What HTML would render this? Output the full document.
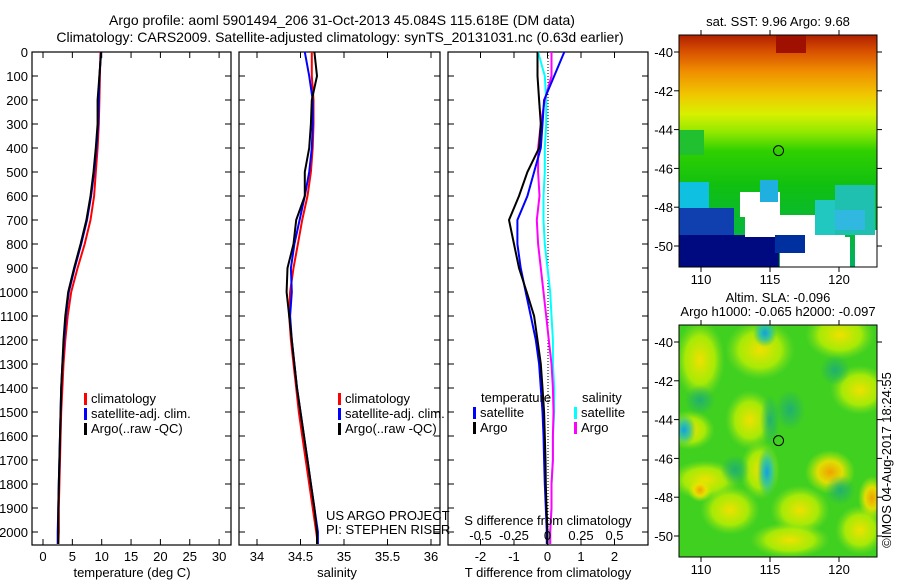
<!DOCTYPE html>
<html><head><meta charset="utf-8"><style>
html,body{margin:0;padding:0;background:#fff;}
svg text{font-family:"Liberation Sans",sans-serif;font-size:13px;fill:#000;}
</style></head><body>
<svg id="c" width="900" height="580" xmlns="http://www.w3.org/2000/svg">
<defs>
<linearGradient id="sstg" x1="0" y1="0" x2="0" y2="1">
<stop offset="0" stop-color="#b02000"/><stop offset="0.07" stop-color="#d85000"/><stop offset="0.16" stop-color="#f09000"/>
<stop offset="0.26" stop-color="#f0c800"/><stop offset="0.34" stop-color="#d8f000"/><stop offset="0.42" stop-color="#90e800"/>
<stop offset="0.5" stop-color="#30d000"/><stop offset="0.65" stop-color="#10c010"/><stop offset="1" stop-color="#00b060"/>
</linearGradient>
<radialGradient id="yb"><stop offset="0" stop-color="#f0e000"/><stop offset="0.6" stop-color="#c0f000" stop-opacity="0.8"/><stop offset="1" stop-color="#80e020" stop-opacity="0"/></radialGradient>
<radialGradient id="ob"><stop offset="0" stop-color="#f0a000"/><stop offset="0.5" stop-color="#f0e000" stop-opacity="0.9"/><stop offset="1" stop-color="#c0f000" stop-opacity="0"/></radialGradient>
<radialGradient id="cb"><stop offset="0" stop-color="#10a0e0"/><stop offset="0.5" stop-color="#20c0b0" stop-opacity="0.8"/><stop offset="1" stop-color="#20c080" stop-opacity="0"/></radialGradient>
<radialGradient id="gb"><stop offset="0" stop-color="#20b070"/><stop offset="1" stop-color="#20b070" stop-opacity="0"/></radialGradient>
</defs>
<g id="titles">
<text x="342" y="25" text-anchor="middle" style="font-size:14px">Argo profile: aoml 5901494_206 31-Oct-2013 45.084S 115.618E (DM data)</text>
<text x="340" y="42" text-anchor="middle" style="font-size:14px">Climatology: CARS2009. Satellite-adjusted climatology: synTS_20131031.nc (0.63d earlier)</text>
</g>
<g id="p1"></g>
<g id="p2"></g>
<g id="p3"></g>
<g id="m1"></g>
<g id="m2"></g>
<text x="0" y="0" transform="translate(891,460) rotate(-90)" text-anchor="middle">©IMOS 04-Aug-2017 18:24:55</text>
</svg>
<script>
// ---- data ----
const depths = [0,100,200,300,400,500,600,700,800,900,1000,1100,1200,1300,1400,1500,1600,1700,1800,1900,2000,2050];
const tempClim = [9.8,9.7,9.6,9.5,9.3,9.0,8.7,8.1,7.1,5.9,4.8,4.2,3.8,3.5,3.3,3.1,3.0,2.9,2.8,2.7,2.7,2.6];
const tempSat  = [9.9,9.6,9.5,9.4,9.1,8.7,8.2,7.5,6.5,5.4,4.4,3.9,3.6,3.3,3.1,3.0,2.9,2.8,2.7,2.6,2.5,2.5];
const tempArgo = [9.9,9.6,9.3,9.3,9.0,8.6,8.1,7.4,6.4,5.3,4.3,3.8,3.5,3.3,3.1,3.0,2.9,2.8,2.7,2.6,2.6,2.6];
const salClim = [34.63,34.63,34.65,34.65,34.64,34.62,34.58,34.52,34.47,34.42,34.38,34.37,34.39,34.42,34.45,34.48,34.52,34.56,34.60,34.64,34.68,34.70];
const salSat  = [34.55,34.60,34.64,34.64,34.63,34.60,34.55,34.49,34.43,34.39,34.40,34.38,34.40,34.43,34.46,34.50,34.54,34.58,34.62,34.66,34.70,34.70];
const salArgo = [34.66,34.69,34.63,34.62,34.60,34.55,34.55,34.45,34.42,34.35,34.34,34.37,34.40,34.43,34.46,34.50,34.54,34.58,34.62,34.66,34.69,34.69];
const dTsat  = [0.5,0.2,-0.1,-0.15,-0.2,-0.4,-0.6,-0.9,-0.9,-0.8,-0.65,-0.5,-0.35,-0.25,-0.2,-0.15,-0.12,-0.1,-0.08,-0.05,-0.02,-0.02];
const dTargo = [-0.3,-0.3,-0.25,-0.2,-0.25,-0.6,-0.85,-1.15,-1.0,-0.85,-0.62,-0.4,-0.3,-0.2,-0.15,-0.1,-0.08,-0.06,-0.05,-0.03,0,0];
const dSsat  = [-0.07,-0.02,-0.01,-0.01,-0.02,-0.02,-0.03,-0.03,-0.02,0.0,0.02,0.03,0.04,0.04,0.05,0.05,0.04,0.04,0.03,0.03,0.02,0.02];
const dSargo = [0.03,0.03,-0.02,-0.05,-0.07,-0.07,-0.06,-0.08,-0.07,-0.05,-0.03,-0.01,0.01,0.03,0.04,0.045,0.04,0.04,0.03,0.03,0.02,0.02];
const depthTicks = [0,100,200,300,400,500,600,700,800,900,1000,1100,1200,1300,1400,1500,1600,1700,1800,1900,2000];
const tTicks = [0,5,10,15,20,25,30];
const sTicks = [34,34.5,35,35.5,36];
const sTickLabels = ["34","34.5","35","35.5","36"];
const dTTicks = [-2,-1,0,1,2];
const dSTicks = [-0.5,-0.25,0,0.25,0.5];
const dSTickLabels = ["-0.5","-0.25","0","0.25","0.5"];
const latTicks = [-40,-42,-44,-46,-48,-50];
const lonTicks = [110,115,120];
const floatLon = 115.618, floatLat = -45.084;

const NS="http://www.w3.org/2000/svg";
function mk(parent,tag,attrs,txt){const e=document.createElementNS(NS,tag);for(const k in attrs)e.setAttribute(k,attrs[k]);if(txt!==undefined)e.textContent=txt;parent.appendChild(e);return e;}
const Y0=52, Y1=545;
const yD = d => Y0 + d*0.24;

function panel(g,x0,x1,xs,ticks,labels,ylabels){
  mk(g,'rect',{x:x0,y:Y0,width:x1-x0,height:Y1-Y0,fill:'none',stroke:'#000','stroke-width':1.2});
  depthTicks.forEach(d=>{const y=yD(d);
    mk(g,'line',{x1:x0,y1:y,x2:x0+6,y2:y,stroke:'#000'});
    mk(g,'line',{x1:x1-6,y1:y,x2:x1,y2:y,stroke:'#000'});
    if(ylabels){const t=mk(g,'text',{x:x0-4,y:y+5,'text-anchor':'end'},String(d));}
  });
  ticks.forEach((v,i)=>{const x=xs(v);
    mk(g,'line',{x1:x,y1:Y1,x2:x,y2:Y1-6,stroke:'#000'});
    mk(g,'line',{x1:x,y1:Y0,x2:x,y2:Y0+6,stroke:'#000'});
    const t=mk(g,'text',{x:x,y:561,'text-anchor':'middle'},labels[i]);
    
  });
}
function line(g,xs,vals,color,name){
  const d=vals.map((v,i)=>(i?'L':'M')+xs(v).toFixed(1)+','+yD(depths[i]).toFixed(1)).join(' ');
  const p=mk(g,'path',{d:d,fill:'none',stroke:color,'stroke-width':2});
  
}
function legend(g,x,y,items){
  items.forEach((it,i)=>{
    mk(g,'rect',{x:x,y:y+i*15-10,width:3,height:12,fill:it[1]});
    const t=mk(g,'text',{x:x+7,y:y+i*15},it[0]);
    
  });
}
// panel 1
const p1=document.getElementById('p1');
const xT = v => 43 + v*5.87;
panel(p1,32,231,xT,tTicks,tTicks.map(String),true);
line(p1,xT,tempClim,'#f00','temp-climatology-line');
line(p1,xT,tempSat,'#00f','temp-satellite-line');
line(p1,xT,tempArgo,'#000','temp-argo-line');
legend(p1,84,403,[['climatology','#f00'],['satellite-adj. clim.','#00f'],['Argo(..raw -QC)','#000']]);
mk(p1,'text',{x:132,y:577,'text-anchor':'middle'},'temperature (deg C)');
// panel 2
const p2=document.getElementById('p2');
const xS = v => 257 + (v-34)*87;
panel(p2,239,440,xS,sTicks,sTickLabels,false);
line(p2,xS,salClim,'#f00','sal-climatology-line');
line(p2,xS,salSat,'#00f','sal-satellite-line');
line(p2,xS,salArgo,'#000','sal-argo-line');
legend(p2,338,403,[['climatology','#f00'],['satellite-adj. clim.','#00f'],['Argo(..raw -QC)','#000']]);
mk(p2,'text',{x:326,y:520},'US ARGO PROJECT');
mk(p2,'text',{x:326,y:534},'PI: STEPHEN RISER');
mk(p2,'text',{x:337,y:577,'text-anchor':'middle'},'salinity');
// panel 3
const p3=document.getElementById('p3');
const xDT = v => 547.5 + v*33.5;
const xDS = v => 547.5 + v*134;
panel(p3,448,648,xDT,dTTicks,dTTicks.map(String),false);
mk(p3,'line',{x1:548,y1:Y0,x2:548,y2:Y1,stroke:'#000','stroke-dasharray':'1,2'});
line(p3,xDS,dSsat,'#0ff','sdiff-satellite-line');
line(p3,xDS,dSargo,'#f0f','sdiff-argo-line');
line(p3,xDT,dTsat,'#00f','tdiff-satellite-line');
line(p3,xDT,dTargo,'#000','tdiff-argo-line');
mk(p3,'text',{x:481,y:402},'temperature');
legend(p3,473,417,[['satellite','#00f'],['Argo','#000']]);
mk(p3,'text',{x:582,y:402},'salinity');
legend(p3,574,417,[['satellite','#0ff'],['Argo','#f0f']]);
mk(p3,'text',{x:548,y:525,'text-anchor':'middle'},'S difference from climatology');
dSTicks.forEach((v,i)=>{const t=mk(p3,'text',{x:xDS(v),y:540,'text-anchor':'middle'},dSTickLabels[i]);});
mk(p3,'text',{x:548,y:577,'text-anchor':'middle'},'T difference from climatology');

// maps
function map(g,top,bot,latTop,drawFill,title1,title2){
  const L=679,R=877;
  const xl = lon => 701 + (lon-110)*13.8;
  const sc=19.4, yLat = lat => latTop + (-40-lat)*sc;
  const cp=mk(g,'clipPath',{id:'cl'+top});mk(cp,'rect',{x:L,y:top,width:R-L,height:bot-top});
  const f=mk(g,'g',{'clip-path':'url(#cl'+top+')'});
  drawFill(f,L,top,R-L,bot-top);
  mk(g,'rect',{x:L,y:top,width:R-L,height:bot-top,fill:'none',stroke:'#000'});
  latTicks.forEach(v=>{const y=yLat(v);mk(g,'line',{x1:L-5,y1:y,x2:L,y2:y,stroke:'#000'});mk(g,'line',{x1:R,y1:y,x2:R+5,y2:y,stroke:'#000'});
    const t=mk(g,'text',{x:L-6,y:y+5,'text-anchor':'end'},String(v));});
  lonTicks.forEach(v=>{const x=xl(v);mk(g,'line',{x1:x,y1:top-5,x2:x,y2:top,stroke:'#000'});mk(g,'line',{x1:x,y1:bot,x2:x,y2:bot+5,stroke:'#000'});
    const t=mk(g,'text',{x:x,y:bot+17,'text-anchor':'middle'},String(v));});
  const c=mk(g,'circle',{cx:xl(floatLon),cy:yLat(floatLat),r:5,fill:'none',stroke:'#000'});
  
  title1&&mk(g,'text',{x:778,y:title1[1],'text-anchor':'middle'},title1[0]);
  title2&&mk(g,'text',{x:778,y:title2[1],'text-anchor':'middle'},title2[0]);
}
map(document.getElementById('m1'),35,267,52,(f,x,y,w,h)=>{
  mk(f,'rect',{x:x,y:y,width:w,height:h,fill:'url(#sstg)'});
  mk(f,'rect',{x:776,y:35,width:30,height:18,fill:'#a01000'});
  mk(f,'rect',{x:679,y:130,width:25,height:25,fill:'#20c030'});
  mk(f,'rect',{x:679,y:182,width:30,height:30,fill:'#10c0e0'});
  mk(f,'rect',{x:679,y:208,width:55,height:30,fill:'#1040b0'});
  mk(f,'rect',{x:679,y:235,width:100,height:32,fill:'#000a80'});
  mk(f,'rect',{x:740,y:192,width:40,height:25,fill:'#fff'});
  mk(f,'rect',{x:745,y:215,width:100,height:22,fill:'#fff'});
  mk(f,'rect',{x:780,y:237,width:70,height:30,fill:'#fff'});
  mk(f,'rect',{x:855,y:230,width:22,height:37,fill:'#fff'});
  mk(f,'rect',{x:815,y:200,width:20,height:35,fill:'#20c8c0'});
  mk(f,'rect',{x:835,y:185,width:40,height:50,fill:'#20c0b0'});
  mk(f,'rect',{x:835,y:210,width:30,height:20,fill:'#30b8e0'});
  mk(f,'rect',{x:775,y:235,width:30,height:18,fill:'#0030a0'});
  mk(f,'rect',{x:760,y:180,width:18,height:22,fill:'#20b0e0'});
},['sat. SST: 9.96 Argo: 9.68',26],null);
map(document.getElementById('m2'),325,557,342,(f,x,y,w,h)=>{
  mk(f,'rect',{x:x,y:y,width:w,height:h,fill:'#40d020'});
  [[700,360,25,40],[760,350,35,30],[840,335,35,25],[860,390,30,25],[750,420,25,30],[690,430,25,20],[705,480,35,20],[730,510,30,25],[800,510,30,25],[790,540,40,18],[860,530,25,25],[760,470,20,30]].forEach(b=>mk(f,'ellipse',{cx:b[0],cy:b[1],rx:b[2],ry:b[3],fill:'url(#yb)'}));
  [[830,472,25,22],[872,498,14,22],[700,490,12,12]].forEach(b=>mk(f,'ellipse',{cx:b[0],cy:b[1],rx:b[2],ry:b[3],fill:'url(#ob)'}));
  [[765,333,12,14],[684,430,12,16],[767,472,10,25]].forEach(b=>mk(f,'ellipse',{cx:b[0],cy:b[1],rx:b[2],ry:b[3],fill:'url(#cb)'}));
  [[835,370,15,15],[790,410,15,20],[700,400,15,15],[735,470,15,15],[840,490,15,15],[770,420,10,25]].forEach(b=>mk(f,'ellipse',{cx:b[0],cy:b[1],rx:b[2],ry:b[3],fill:'url(#gb)'}));
},['Altim. SLA: -0.096',302],['Argo h1000: -0.065 h2000: -0.097',316]);
</script>
</body></html>
